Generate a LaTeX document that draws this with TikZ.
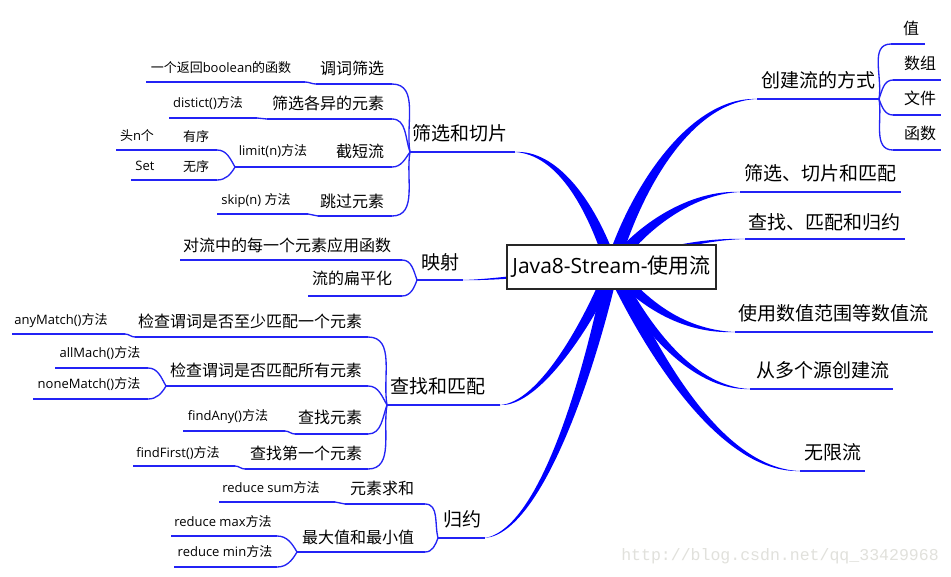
\documentclass[tikz,border=0pt]{standalone}
\usepackage{fontspec}
\setmainfont{Open Sans}
\newfontfamily\cjk{Noto Sans CJK SC}
\newfontfamily\wmfont{Liberation Mono}
\usetikzlibrary{calc}
\definecolor{tblue}{RGB}{0,0,255}
\definecolor{lblue}{RGB}{35,35,245}
\definecolor{wmgray}{RGB}{225,225,220}
\newcommand\taper[5]{%
  \fill[tblue] ($(#1)!#5!90:(#2)$) .. controls ($(#2)!#5*0.85!90:(#3)$) and ($(#3)!#5*0.4!90:(#4)$) .. (#4)
    .. controls ($(#3)!#5*0.4!-90:(#4)$) and ($(#2)!#5*0.85!-90:(#3)$) .. ($(#1)!#5!-90:(#2)$) -- cycle;}
\newcommand\ulseg[4]{% name, x1, y, x2
  \coordinate (#1-l) at (#2,#3); \coordinate (#1-r) at (#4,#3);
  \draw[ul] (#1-l) -- (#1-r);}
\begin{document}
\begin{tikzpicture}[x=0.75pt,y=-0.75pt,
  t0/.style={font=\fontsize{15.75}{18}\selectfont, inner sep=0pt},
  t1/.style={font=\fontsize{14.25}{16}\selectfont, inner sep=0pt},
  t2/.style={font=\fontsize{12}{14}\selectfont, inner sep=0pt},
  t3/.style={font=\fontsize{9.75}{12}\selectfont, inner sep=0pt},
  ul/.style={draw=lblue, line width=1pt},
  wm/.style={font=\wmfont\fontsize{12.4}{14}\selectfont, text=wmgray, inner sep=0pt}]
\useasboundingbox (0,0) rectangle (951,576);
\fill[white] (0,0) rectangle (951,576);

% ---------- main tapered branches ----------
\coordinate (C) at (612,267);
\coordinate (E1) at (757,99);  \coordinate (E1a) at (635,190); \coordinate (E1b) at (690,99);
\coordinate (E2) at (740,192); \coordinate (E2a) at (640,228); \coordinate (E2b) at (690,192);
\coordinate (E3) at (745,239); \coordinate (E3a) at (660,250); \coordinate (E3b) at (700,239);
\coordinate (E4) at (735,332); \coordinate (E4a) at (640,300); \coordinate (E4b) at (680,332);
\coordinate (E5) at (750,389); \coordinate (E5a) at (640,320); \coordinate (E5b) at (690,389);
\coordinate (E6) at (800,471); \coordinate (E6a) at (650,350); \coordinate (E6b) at (720,471);
\coordinate (E7) at (515,152); \coordinate (E7a) at (590,200); \coordinate (E7b) at (555,152);
\coordinate (E8) at (463,280); \coordinate (E8a) at (560,272); \coordinate (E8b) at (500,280);
\coordinate (E9) at (500,405); \coordinate (E9a) at (590,320); \coordinate (E9b) at (540,405);
\coordinate (E10) at (485,538); \coordinate (E10a) at (595,350); \coordinate (E10b) at (545,530);
\taper{C}{E1a}{E1b}{E1}{5pt}
\taper{C}{E2a}{E2b}{E2}{4.5pt}
\taper{C}{E3a}{E3b}{E3}{2.5pt}
\taper{C}{E4a}{E4b}{E4}{4.5pt}
\taper{C}{E5a}{E5b}{E5}{4.5pt}
\taper{C}{E6a}{E6b}{E6}{5pt}
\taper{C}{E7a}{E7b}{E7}{4.5pt}
\taper{C}{E8a}{E8b}{E8}{2pt}
\taper{C}{E9a}{E9b}{E9}{4.5pt}
\taper{C}{E10a}{E10b}{E10}{5pt}

% ---------- centre ----------
\node[t0, draw=black!85, fill=white, line width=0.8pt, minimum width=156.75pt, minimum height=33pt, inner sep=0pt] (root) at (611.5,267) {Java8-Stream-{\cjk 使用流}};

% ---------- right side ----------
\coordinate (P5) at (879,99);
\draw[ul] (E1) -- (P5);
\node[t1] (r1) at (818,80) {\cjk 创建流的方式};
\ulseg{v1}{891}{44}{925} \node[t2] (v1t) at (911,28) {\cjk 值};
\ulseg{v2}{893}{80}{941} \node[t2] (v2t) at (920,63) {\cjk 数组};
\ulseg{v3}{893}{115}{941} \node[t2] (v3t) at (920,98) {\cjk 文件};
\ulseg{v4}{893}{150}{941} \node[t2] (v4t) at (920,133) {\cjk 函数};
\draw[ul] (P5) to[out=80,in=180] (v1-l);
\draw[ul] (P5) to[out=70,in=180] (v2-l);
\draw[ul] (P5) to[out=-70,in=180] (v3-l);
\draw[ul] (P5) to[out=-80,in=180] (v4-l);

\coordinate (F2) at (901,192); \draw[ul] (E2) -- (F2);
\node[t1] (r2) at (820,173) {\cjk 筛选、切片和匹配};
\coordinate (F3) at (905,239); \draw[ul] (E3) -- (F3);
\node[t1] (r3) at (824,222) {\cjk 查找、匹配和归约};
\coordinate (F4) at (933,332); \draw[ul] (E4) -- (F4);
\node[t1] (r4) at (833,313) {\cjk 使用数值范围等数值流};
\coordinate (F5) at (893,389); \draw[ul] (E5) -- (F5);
\node[t1] (r5) at (823,370) {\cjk 从多个源创建流};
\coordinate (F6) at (865,471); \draw[ul] (E6) -- (F6);
\node[t1] (r6) at (833,452) {\cjk 无限流};

% ---------- 筛选和切片 ----------
\coordinate (P1) at (410,152);
\draw[ul] (P1) -- (E7);
\node[t1] (l1) at (460,133) {\cjk 筛选和切片};
\ulseg{k1}{316}{84}{392} \node[t2] (k1t) at (352,68) {\cjk 调词筛选};
\ulseg{a1}{146}{82}{305} \node[t3] (a1t) at (221,68) {{\cjk 一个返回}boolean{\cjk 的函数}};
\draw[ul] (a1-r) to[out=0,in=180] (k1-l);
\draw[ul] (P1) to[out=100,in=0] (k1-r);
\ulseg{k2}{267}{119}{392} \node[t2] (k2t) at (328,103) {\cjk 筛选各异的元素};
\ulseg{a2}{169}{118}{257} \node[t3] (a2t) at (208,103) {distict(){\cjk 方法}};
\draw[ul] (a2-r) to[out=0,in=180] (k2-l);
\draw[ul] (P1) to[out=110,in=0] (k2-r);
\ulseg{k3}{320}{167}{392} \node[t2] (k3t) at (360,151) {\cjk 截短流};
\ulseg{a3}{235}{167}{320} \node[t3] (a3t) at (273,151) {limit(n){\cjk 方法}};
\draw[ul] (P1) to[out=235,in=0] (k3-r);
\ulseg{b1}{180}{150}{217} \node[t3] (b1t) at (196,137) {\cjk 有序};
\ulseg{c1}{116}{150}{180} \node[t3] (c1t) at (137,136) {{\cjk 头}n{\cjk 个}};
\ulseg{b2}{180}{180}{217} \node[t3] (b2t) at (196,167) {\cjk 无序};
\ulseg{c2}{131}{180}{180} \node[t3] (c2t) at (145,166) {Set};
\draw[ul] (a3-l) to[out=120,in=0] (b1-r);
\draw[ul] (a3-l) to[out=240,in=0] (b2-r);
\ulseg{k4}{318}{216}{392} \node[t2] (k4t) at (352,201) {\cjk 跳过元素};
\ulseg{a4}{217}{214}{308} \node[t3] (a4t) at (256,201) {skip(n) {\cjk 方法}};
\draw[ul] (a4-r) to[out=0,in=180] (k4-l);
\draw[ul] (P1) to[out=260,in=0] (k4-r);

% ---------- 映射 ----------
\coordinate (P2) at (417,280);
\draw[ul] (P2) -- (E8);
\node[t1] (l2) at (440,262) {\cjk 映射};
\ulseg{m1}{180}{260}{402} \node[t2] (m1t) at (287,245) {\cjk 对流中的每一个元素应用函数};
\ulseg{m2}{308}{296}{402} \node[t2] (m2t) at (352,278) {\cjk 流的扁平化};
\draw[ul] (P2) to[out=110,in=0] (m1-r);
\draw[ul] (P2) to[out=250,in=0] (m2-r);

% ---------- 查找和匹配 ----------
\coordinate (P3) at (387,405);
\draw[ul] (P3) -- (E9);
\node[t1] (l3) at (438,386) {\cjk 查找和匹配};
\ulseg{q1}{135}{337}{368} \node[t2] (q1t) at (250,321) {\cjk 检查谓词是否至少匹配一个元素};
\ulseg{s1}{12}{334}{125} \node[t3] (s1t) at (61,321) {anyMatch(){\cjk 方法}};
\draw[ul] (s1-r) to[out=0,in=180] (q1-l);
\draw[ul] (P3) to[out=100,in=0] (q1-r);
\ulseg{q2}{166}{386}{368} \node[t2] (q2t) at (266,370) {\cjk 检查谓词是否匹配所有元素};
\ulseg{s2}{55}{368}{148} \node[t3] (s2t) at (100,353) {allMach(){\cjk 方法}};
\ulseg{s3}{33}{399}{148} \node[t3] (s3t) at (89,384) {noneMatch(){\cjk 方法}};
\draw[ul] (q2-l) to[out=120,in=0] (s2-r);
\draw[ul] (q2-l) to[out=240,in=0] (s3-r);
\draw[ul] (P3) to[out=120,in=0] (q2-r);
\ulseg{q3}{295}{434}{368} \node[t2] (q3t) at (330,417) {\cjk 查找元素};
\ulseg{s4}{183}{431}{285} \node[t3] (s4t) at (228,417) {findAny(){\cjk 方法}};
\draw[ul] (s4-r) to[out=0,in=180] (q3-l);
\draw[ul] (P3) to[out=250,in=0] (q3-r);
\ulseg{q4}{245}{469}{368} \node[t2] (q4t) at (306,453) {\cjk 查找第一个元素};
\ulseg{s5}{133}{466}{235} \node[t3] (s5t) at (178,453) {findFirst(){\cjk 方法}};
\draw[ul] (s5-r) to[out=0,in=180] (q4-l);
\draw[ul] (P3) to[out=260,in=0] (q4-r);

% ---------- 归约 ----------
\coordinate (P4) at (438,538);
\draw[ul] (P4) -- (E10);
\node[t1] (l4) at (462,519) {\cjk 归约};
\ulseg{g1}{345}{504}{425} \node[t2] (g1t) at (382,488) {\cjk 元素求和};
\ulseg{h1}{219}{502}{335} \node[t3] (h1t) at (271,488) {reduce sum{\cjk 方法}};
\draw[ul] (h1-r) to[out=0,in=180] (g1-l);
\draw[ul] (P4) to[out=105,in=0] (g1-r);
\ulseg{g2}{297}{552}{425} \node[t2] (g2t) at (358,537) {\cjk 最大值和最小值};
\ulseg{h2}{171}{536}{277} \node[t3] (h2t) at (223,522) {reduce max{\cjk 方法}};
\ulseg{h3}{174}{567}{277} \node[t3] (h3t) at (225,552) {reduce min{\cjk 方法}};
\draw[ul] (g2-l) to[out=120,in=0] (h2-r);
\draw[ul] (g2-l) to[out=240,in=0] (h3-r);
\draw[ul] (P4) to[out=250,in=0] (g2-r);

% ---------- watermark ----------
\node[wm] (wmk) at (780,556) {http://blog.csdn.net/qq\_33429968};
\end{tikzpicture}
\end{document}
